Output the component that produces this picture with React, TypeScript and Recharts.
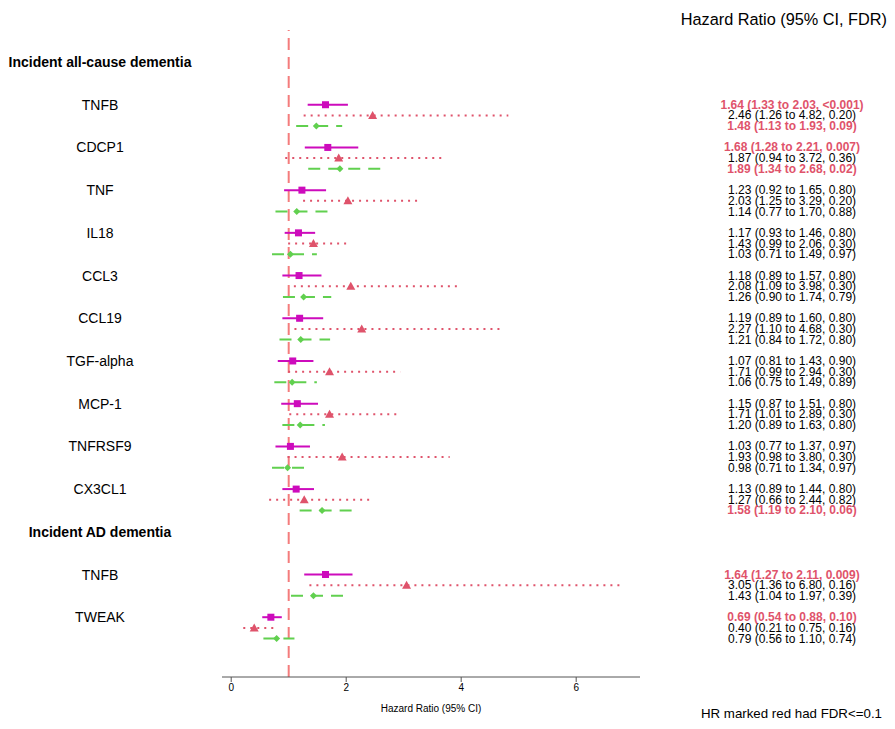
import React from "react";
import {
  ScatterChart, Scatter, XAxis, YAxis, ReferenceLine,
} from "recharts";

// headings and protein names
const groups = ["Incident all-cause dementia", "Incident AD dementia"];
const allCauseProteins = [
  "TNFB", "CDCP1", "TNF", "IL18", "CCL3", "CCL19", "TGF-alpha", "MCP-1", "TNFRSF9", "CX3CL1",
];
const adProteins = ["TNFB", "TWEAK"];

// [HR, lower, upper, FDR] per protein (all-cause first, then AD)
const magentaRows: [number, number, number, string][] = [
  [1.64, 1.33, 2.03, "<0.001"], [1.68, 1.28, 2.21, "0.007"], [1.23, 0.92, 1.65, "0.80"],
  [1.17, 0.93, 1.46, "0.80"], [1.18, 0.89, 1.57, "0.80"], [1.19, 0.89, 1.60, "0.80"],
  [1.07, 0.81, 1.43, "0.90"], [1.15, 0.87, 1.51, "0.80"], [1.03, 0.77, 1.37, "0.97"],
  [1.13, 0.89, 1.44, "0.80"], [1.64, 1.27, 2.11, "0.009"], [0.69, 0.54, 0.88, "0.10"],
];
const redRows: [number, number, number, string][] = [
  [2.46, 1.26, 4.82, "0.20"], [1.87, 0.94, 3.72, "0.36"], [2.03, 1.25, 3.29, "0.20"],
  [1.43, 0.99, 2.06, "0.30"], [2.08, 1.09, 3.98, "0.30"], [2.27, 1.10, 4.68, "0.30"],
  [1.71, 0.99, 2.94, "0.30"], [1.71, 1.01, 2.89, "0.30"], [1.93, 0.98, 3.80, "0.30"],
  [1.27, 0.66, 2.44, "0.82"], [3.05, 1.36, 6.80, "0.16"], [0.40, 0.21, 0.75, "0.16"],
];
const greenRows: [number, number, number, string][] = [
  [1.48, 1.13, 1.93, "0.09"], [1.89, 1.34, 2.68, "0.02"], [1.14, 0.77, 1.70, "0.88"],
  [1.03, 0.71, 1.49, "0.97"], [1.26, 0.90, 1.74, "0.79"], [1.21, 0.84, 1.72, "0.80"],
  [1.06, 0.75, 1.49, "0.89"], [1.20, 0.89, 1.63, "0.80"], [0.98, 0.71, 1.34, "0.97"],
  [1.58, 1.19, 2.10, "0.06"], [1.43, 1.04, 1.97, "0.39"], [0.79, 0.56, 1.10, "0.74"],
];
const xTicks = [0, 2, 4, 6];

const MAGENTA = "#CD0BBC";
const RED = "#DF536B";
const GREEN = "#61D04F";

// row layout (y units, top = 0)
const headingPos = [3, 47];
const proteinPos = [
  ...allCauseProteins.map((_, i) => 7 + 4 * i),
  ...adProteins.map((_, i) => 51 + 4 * i),
];
const proteinNames = [...allCauseProteins, ...adProteins];

const series = [
  { rows: magentaRows, off: 0, color: MAGENTA, dash: undefined, width: 2 },
  { rows: redRows, off: 1, color: RED, dash: "2 5", width: 2 },
  { rows: greenRows, off: 2, color: GREEN, dash: "12 8", width: 2 },
];

const fdrNum = (s: string) => (s.startsWith("<") ? 0 : parseFloat(s));

const leftLabels: Record<number, { text: string; bold: boolean }> = {};
headingPos.forEach((p, i) => (leftLabels[p] = { text: groups[i], bold: true }));
proteinPos.forEach((p, i) => (leftLabels[p] = { text: proteinNames[i], bold: false }));

const rightLabels: Record<number, { text: string; red: boolean }> = {};
series.forEach((s) =>
  s.rows.forEach(([hr, lo, hi, fdr], i) => {
    rightLabels[proteinPos[i] + s.off] = {
      text: `${hr.toFixed(2)} (${lo.toFixed(2)} to ${hi.toFixed(2)}, ${fdr})`,
      red: fdrNum(fdr) <= 0.1,
    };
  })
);

const LeftTick = (props: any) => {
  const lab = leftLabels[props.payload.value];
  if (!lab) return null;
  return (
    <text x={92} y={props.y} textAnchor="middle" dominantBaseline="central"
      fontSize={14} fontWeight={lab.bold ? "bold" : "normal"} fill="#000">
      {lab.text}
    </text>
  );
};

const RightTick = (props: any) => {
  const lab = rightLabels[props.payload.value];
  if (!lab) return null;
  return (
    <text x={784} y={props.y} textAnchor="middle" dominantBaseline="central"
      fontSize={12} fontWeight={lab.red ? "bold" : "normal"} fill={lab.red ? RED : "#000"}>
      {lab.text}
    </text>
  );
};

const Square = (p: any) => <rect x={p.cx - 3.5} y={p.cy - 3.5} width={7} height={7} fill={MAGENTA} />;
const Tri = (p: any) => (
  <polygon points={`${p.cx - 4.5},${p.cy + 3.5} ${p.cx + 4.5},${p.cy + 3.5} ${p.cx},${p.cy - 4.5}`} fill={RED} />
);
const Diamond = (p: any) => (
  <polygon points={`${p.cx - 3.5},${p.cy} ${p.cx},${p.cy - 3.5} ${p.cx + 3.5},${p.cy} ${p.cx},${p.cy + 3.5}`} fill={GREEN} />
);
const Nothing = () => <g />;

export default function App() {
  const yDomain = [0, 60.6];
  const rightTicks = Object.keys(rightLabels).map(Number);
  const leftTicks = Object.keys(leftLabels).map(Number);

  return (
    <div style={{ position: "relative", width: 879, height: 713, fontFamily: "'Liberation Sans', Arial, sans-serif" }}>
      <div style={{ position: "absolute", right: 0, top: 1, fontSize: 16.3, lineHeight: "20px", whiteSpace: "nowrap" }}>
        Hazard Ratio (95% CI, FDR)
      </div>
      <ScatterChart width={879} height={713} margin={{ top: 22, right: 0, bottom: 0, left: 0 }}>
        <XAxis type="number" dataKey="x" domain={[-0.16, 7.11]} ticks={xTicks} allowDataOverflow
          height={44} stroke="#555" tick={{ fontSize: 10, fill: "#000" }} tickSize={5}
          label={{ value: "Hazard Ratio (95% CI)", position: "insideBottom", offset: 9, fontSize: 10, fill: "#000" }} />
        <YAxis yAxisId="left" type="number" dataKey="y" domain={yDomain} reversed width={214}
          ticks={leftTicks} interval={0} axisLine={false} tickLine={false} tick={<LeftTick />} />
        <YAxis yAxisId="right" orientation="right" type="number" dataKey="y" domain={yDomain} reversed width={247}
          ticks={rightTicks} interval={0} axisLine={false} tickLine={false} tick={<RightTick />} />
        <ReferenceLine yAxisId="left" x={1} stroke="#F47C7C" strokeWidth={2} strokeDasharray="12 7" />
        {series.map((s, si) =>
          s.rows.map(([, lo, hi], i) => (
            <ReferenceLine key={`ci-${si}-${i}`} yAxisId="left" ifOverflow="visible"
              segment={[{ x: lo, y: proteinPos[i] + s.off }, { x: hi, y: proteinPos[i] + s.off }]}
              stroke={s.color} strokeWidth={s.width} strokeDasharray={s.dash} />
          ))
        )}
        <Scatter yAxisId="right" isAnimationActive={false} shape={<Nothing />}
          data={rightTicks.map((y) => ({ x: 1, y }))} />
        <Scatter yAxisId="left" isAnimationActive={false} shape={<Square />}
          data={magentaRows.map((r, i) => ({ x: r[0], y: proteinPos[i] }))} />
        <Scatter yAxisId="left" isAnimationActive={false} shape={<Tri />}
          data={redRows.map((r, i) => ({ x: r[0], y: proteinPos[i] + 1 }))} />
        <Scatter yAxisId="left" isAnimationActive={false} shape={<Diamond />}
          data={greenRows.map((r, i) => ({ x: r[0], y: proteinPos[i] + 2 }))} />
      </ScatterChart>
      <div style={{ position: "absolute", right: 5, bottom: 0, fontSize: 13.3, lineHeight: "14px", whiteSpace: "nowrap" }}>
        HR marked red had FDR&lt;=0.1
      </div>
    </div>
  );
}
